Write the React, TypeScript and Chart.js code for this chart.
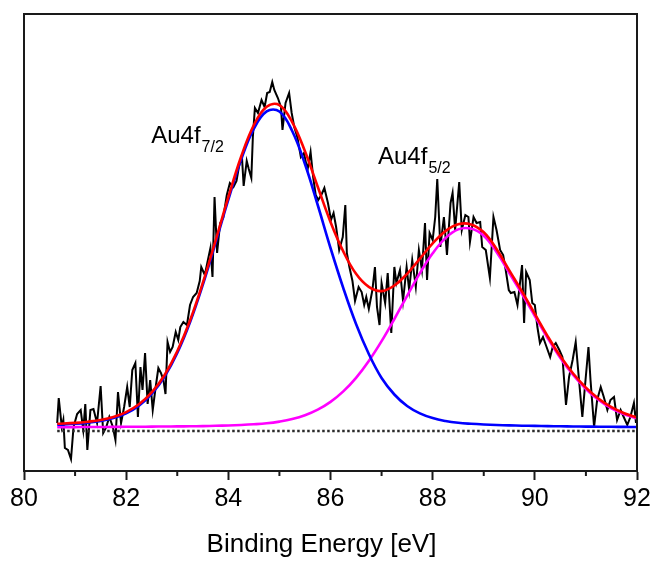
import React, { useEffect, useRef } from 'react';
import { Chart, registerables } from 'chart.js';

Chart.register(...registerables);

// ---- measured spectrum (binding energy in eV, intensity in arbitrary units above background) ----
const DATA_X = [
  80.65, 80.68, 80.74, 80.77, 80.80, 80.86, 80.92, 80.97, 81.04, 81.11,
  81.16, 81.20, 81.24, 81.30, 81.36, 81.43, 81.50, 81.55, 81.61, 81.67,
  81.74, 81.79, 81.84, 81.90, 81.96, 82.02, 82.07, 82.12, 82.18, 82.23,
  82.28, 82.32, 82.37, 82.42, 82.47, 82.52, 82.57, 82.63, 82.68, 82.73,
  82.77, 82.81, 82.86, 82.91, 82.97, 83.02, 83.06, 83.12, 83.19, 83.25,
  83.31, 83.38, 83.44, 83.47, 83.54, 83.60, 83.65, 83.69, 83.73, 83.78,
  83.84, 83.90, 83.97, 84.03, 84.10, 84.16, 84.22, 84.27, 84.30, 84.36,
  84.40, 84.45, 84.48, 84.52, 84.58, 84.65, 84.71, 84.76, 84.81, 84.86,
  84.90, 84.97, 85.03, 85.06, 85.12, 85.19, 85.24, 85.29, 85.35, 85.42,
  85.48, 85.55, 85.61, 85.66, 85.71, 85.76, 85.82, 85.88, 85.95, 86.01,
  86.06, 86.11, 86.17, 86.24, 86.29, 86.32, 86.37, 86.43, 86.48, 86.55,
  86.61, 86.66, 86.70, 86.75, 86.82, 86.87, 86.91, 86.96, 87.00, 87.07,
  87.12, 87.19, 87.25, 87.29, 87.36, 87.42, 87.49, 87.54, 87.60, 87.67,
  87.73, 87.79, 87.85, 87.89, 87.94, 88.00, 88.05, 88.09, 88.15, 88.22,
  88.28, 88.35, 88.39, 88.44, 88.52, 88.57, 88.64, 88.70, 88.73, 88.80,
  88.86, 88.93, 88.97, 89.04, 89.12, 89.19, 89.25, 89.32, 89.38, 89.43,
  89.49, 89.53, 89.60, 89.66, 89.75, 89.79, 89.83, 89.90, 89.95, 90.00,
  90.05, 90.10, 90.16, 90.23, 90.30, 90.35, 90.41, 90.48, 90.54, 90.61,
  90.67, 90.74, 90.80, 90.87, 90.93, 90.98, 91.05, 91.09, 91.16, 91.22,
  91.29, 91.35, 91.42, 91.48, 91.55, 91.61, 91.68, 91.74, 91.81, 91.87,
  91.94, 91.98, 92.0,
];
const DATA_Y = [
  8, 33, 4, 11, -17, -19, -28, 4, 17, 21,
  1, 27, -19, 21, 22, 8, 45, -2, 4, 14,
  4, -9, 39, 8, 24, 44, 24, 61, 68, 14,
  64, 41, 78, 27, 51, 21, 41, 63, 58, 51,
  37, 89, 79, 84, 99, 91, 104, 109, 106, 126,
  134, 138, 150, 164, 156, 171, 183, 154, 234, 178,
  208, 213, 236, 248, 244, 250, 268, 271, 245, 270,
  262, 253, 294, 323, 318, 331, 324, 338, 339, 349,
  341, 333, 324, 301, 328, 338, 318, 304, 294, 274,
  278, 261, 279, 254, 236, 231, 236, 243, 228, 211,
  218, 204, 181, 194, 226, 178, 164, 150, 130, 144,
  139, 126, 134, 122, 141, 164, 124, 106, 148, 128,
  158, 98, 164, 148, 161, 130, 164, 141, 171, 144,
  181, 161, 208, 151, 198, 191, 214, 252, 184, 214,
  176, 228, 238, 201, 249, 201, 216, 214, 189, 214,
  208, 209, 184, 181, 153, 214, 201, 181, 176, 161,
  141, 138, 139, 126, 166, 108, 159, 151, 128, 126,
  104, 88, 94, 84, 74, 84, 88, 81, 74, 26,
  54, 71, 89, 48, 14, 44, 84, 51, 4, 31,
  44, 34, 21, 31, 34, 11, 21, 14, 6, 14,
  28, 8, 21,
];

// ---- fitted components ----
const FIT_X = [
  80.65, 81.0, 81.25, 81.5, 81.75, 82.0, 82.25, 82.5, 82.75, 83.0,
  83.25, 83.5, 83.75, 84.0, 84.25, 84.5, 84.75, 85.0, 85.25, 85.5,
  85.75, 86.0, 86.25, 86.5, 86.75, 87.0, 87.25, 87.5, 87.75, 88.0,
  88.25, 88.5, 88.75, 89.0, 89.25, 89.5, 89.75, 90.0, 90.25, 90.5,
  90.75, 91.0, 91.25, 91.5, 91.75, 92.0,
];
const FIT_ENVELOPE = [
  7.2, 8.1, 9.3, 11.0, 14.0, 18.9, 26.7, 38.6, 55.8, 79.7,
  110.5, 148.1, 190.4, 233.8, 274.2, 306.0, 324.3, 325.9, 308.9, 279.7,
  244.3, 209.1, 179.6, 157.2, 144.1, 139.9, 145.5, 157.2, 172.4, 187.6,
  199.9, 206.8, 206.6, 198.7, 182.0, 160.6, 139.3, 117.1, 94.9, 74.7,
  57.5, 43.4, 32.3, 23.8, 17.8, 13.5,
];
const FIT_AU4F72 = [
  6.4, 7.2, 8.3, 10.0, 12.9, 17.7, 25.4, 37.2, 54.3, 78.1,
  108.8, 146.2, 188.2, 231.3, 271.2, 302.3, 319.6, 319.5, 300.0, 267.0,
  226.0, 183.0, 143.0, 107.0, 77.0, 53.0, 36.5, 25.0, 17.6, 12.9,
  10.0, 8.2, 7.2, 6.5, 6.0, 5.6, 5.3, 5.1, 4.9, 4.7,
  4.5, 4.4, 4.3, 4.2, 4.1, 4.0,
];
const FIT_AU4F52 = [
  3.8, 3.9, 3.95, 4.0, 4.1, 4.2, 4.25, 4.35, 4.5, 4.6,
  4.7, 4.9, 5.2, 5.5, 6.0, 6.7, 7.7, 9.4, 11.9, 15.7,
  21.3, 29.1, 39.6, 53.2, 70.1, 89.9, 112.0, 135.2, 157.8, 177.7,
  192.9, 201.6, 202.4, 195.2, 179.0, 158.0, 137.0, 115.0, 93.0, 73.0,
  56.0, 42.0, 31.0, 22.6, 16.7, 12.5,
];
const BASELINE_X = [80.65, 92.0];
const BASELINE_Y = [0, 0];

// ---- axes ----
const X_MIN = 80;
const X_MAX = 92;
const X_MAJOR_STEP = 2;
const X_MINOR_TICKS = [81, 83, 85, 87, 89, 91];
const Y_MIN = -40;
const Y_MAX = 417;
const X_TITLE = 'Binding Energy [eV]';

// ---- peak annotations (anchored in data coordinates) ----
const PEAK_LABEL_MAIN = ['Au4f', 'Au4f'];
const PEAK_LABEL_SUB = ['7/2', '5/2'];
const PEAK_LABEL_X = [82.49, 86.93];
const PEAK_LABEL_Y = [288, 267];

const FONT = "'Liberation Sans', Arial, Helvetica, sans-serif";
const AXIS_COLOR = '#1a1a1a';

const toPoints = (xs: number[], ys: number[]) => xs.map((x, i) => ({ x, y: ys[i] }));

const decorPlugin = {
  id: 'decor',
  afterDatasetsDraw(chart: any) {
    const { ctx, chartArea, scales } = chart;
    const xs = scales.x;
    const ys = scales.y;
    ctx.save();
    // frame
    ctx.strokeStyle = AXIS_COLOR;
    ctx.lineWidth = 2;
    ctx.strokeRect(chartArea.left, chartArea.top, chartArea.right - chartArea.left, chartArea.bottom - chartArea.top);
    // minor ticks
    ctx.beginPath();
    X_MINOR_TICKS.forEach((v) => {
      const px = xs.getPixelForValue(v);
      ctx.moveTo(px, chartArea.bottom);
      ctx.lineTo(px, chartArea.bottom + 5);
    });
    ctx.stroke();
    // peak labels
    ctx.fillStyle = '#000';
    ctx.textBaseline = 'alphabetic';
    ctx.textAlign = 'left';
    PEAK_LABEL_MAIN.forEach((t, i) => {
      const px = xs.getPixelForValue(PEAK_LABEL_X[i]);
      const py = ys.getPixelForValue(PEAK_LABEL_Y[i]);
      ctx.font = `24px ${FONT}`;
      ctx.fillText(t, px, py);
      const w = ctx.measureText(t).width;
      ctx.font = `16px ${FONT}`;
      ctx.fillText(PEAK_LABEL_SUB[i], px + w + 1, py + 9);
    });
    // axis title
    ctx.font = `26px ${FONT}`;
    ctx.textAlign = 'center';
    ctx.fillText(X_TITLE, (chartArea.left + chartArea.right) / 2 - 9, chartArea.bottom + 81);
    ctx.restore();
  },
};

export default function App() {
  const canvasRef = useRef<HTMLCanvasElement | null>(null);

  useEffect(() => {
    if (!canvasRef.current) return;
    const chart = new Chart(canvasRef.current, {
      type: 'line',
      data: {
        datasets: [
          {
            label: 'Envelope',
            data: toPoints(FIT_X, FIT_ENVELOPE),
            borderColor: '#ff0000',
            borderWidth: 2.6,
            pointRadius: 0,
            tension: 0.4,
            fill: false,
          },
          {
            label: 'Au4f7/2',
            data: toPoints(FIT_X, FIT_AU4F72),
            borderColor: '#0000ff',
            borderWidth: 2.6,
            pointRadius: 0,
            tension: 0.4,
            fill: false,
          },
          {
            label: 'Au4f5/2',
            data: toPoints(FIT_X, FIT_AU4F52),
            borderColor: '#ff00ff',
            borderWidth: 2.6,
            pointRadius: 0,
            tension: 0.4,
            fill: false,
          },
          {
            label: 'Background',
            data: toPoints(BASELINE_X, BASELINE_Y),
            borderColor: '#2a2a2a',
            borderWidth: 2.5,
            borderDash: [2.5, 2.5],
            pointRadius: 0,
            fill: false,
          },
          {
            label: 'Measured',
            data: toPoints(DATA_X, DATA_Y),
            borderColor: '#000000',
            borderWidth: 2,
            pointRadius: 0,
            tension: 0,
            fill: false,
          },
        ],
      },
      options: {
        animation: false,
        responsive: false,
        devicePixelRatio: 1,
        layout: { padding: { left: 24, right: 20, top: 14, bottom: 0 } },
        plugins: {
          legend: { display: false },
          tooltip: { enabled: false },
          title: { display: false },
        },
        scales: {
          x: {
            type: 'linear',
            min: X_MIN,
            max: X_MAX,
            afterFit: (s: any) => {
              s.height = 91;
            },
            ticks: {
              stepSize: X_MAJOR_STEP,
              autoSkip: false,
              maxRotation: 0,
              padding: 4,
              color: '#000',
              font: { family: FONT, size: 25 },
            },
            grid: {
              drawOnChartArea: false,
              drawTicks: true,
              tickLength: 9,
              tickWidth: 2,
              tickColor: AXIS_COLOR,
            },
            border: { display: true, color: AXIS_COLOR, width: 2 },
          },
          y: {
            type: 'linear',
            display: false,
            min: Y_MIN,
            max: Y_MAX,
          },
        },
      },
      plugins: [decorPlugin],
    });
    return () => chart.destroy();
  }, []);

  return (
    <div style={{ position: 'fixed', left: 0, top: 0, width: 657, height: 562, background: '#fff' }}>
      <canvas ref={canvasRef} width={657} height={562} style={{ display: 'block' }} />
    </div>
  );
}
